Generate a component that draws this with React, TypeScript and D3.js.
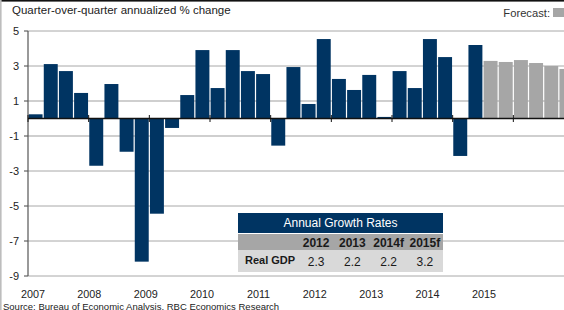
import React from 'react';
import * as d3 from 'd3';

const years = ['2007', '2008', '2009', '2010', '2011', '2012', '2013', '2014', '2015'];
const quarters = ['Q1', 'Q2', 'Q3', 'Q4'];
const actual = [
  0.24, 3.11, 2.71, 1.46,
  -2.7, 1.97, -1.9, -8.18,
  -5.44, -0.54, 1.34, 3.91,
  1.74, 3.91, 2.71, 2.54,
  -1.55, 2.94, 0.83, 4.54,
  2.26, 1.63, 2.49, 0.09,
  2.71, 1.74, 4.54, 3.51,
  -2.14, 4.2,
];
const forecast = [3.29, 3.23, 3.34, 3.17, 3.0, 2.83];
const yTicks = [5, 3, 1, -1, -3, -5, -7, -9];

// Annual growth table
const tableYears = ['2012', '2013', '2014f', '2015f'];
const tableValues = ['2.3', '2.2', '2.2', '3.2'];

const W = 564;
const H = 310;
const NAVY = '#003462';
const GREY = '#a6a6a6';
const FONT = '"Liberation Sans", Arial, sans-serif';

export default function App() {
  const categories = d3.cross(years, quarters).map(([y, q]) => `${y} ${q}`);
  const values = [...actual, ...forecast];

  const x = d3
    .scaleBand<string>()
    .domain(categories)
    .range([28, 574])
    .paddingInner(0.08)
    .paddingOuter(0.04);
  const y = d3.scaleLinear().domain([-9, 5]).range([276, 31]);
  const yearLabel = d3.scalePoint<string>().domain(years).range([33, 484]);

  const gap = (x.step() - x.bandwidth()) / 2;
  const y0 = y(0);

  // table columns
  const tx = d3.scaleBand<string>().domain(tableYears).range([298, 443]);

  return (
    <svg
      width={W}
      height={H}
      style={{ position: 'absolute', left: 0, top: 0, background: '#fff' }}
      fontFamily={FONT}
    >
      {/* frame */}
      <rect x={0} y={0} width={W} height={1.6} fill="#111" />
      <rect x={0} y={0} width={1.6} height={H} fill="#bdbdbd" />

      <text x={12} y={13.5} fontSize={11.5} fill="#222">
        Quarter-over-quarter annualized % change
      </text>
      <text x={550} y={17} fontSize={11.2} fill="#333" textAnchor="end">
        Forecast:
      </text>
      <rect x={553} y={8} width={12} height={9} fill={GREY} />

      {/* grid */}
      {yTicks.map((t) => (
        <g key={t}>
          <line
            x1={28}
            x2={W}
            y1={y(t)}
            y2={y(t)}
            stroke={Math.abs(t) === 1 ? '#cfcfcf' : '#a8a8a8'}
            strokeWidth={Math.abs(t) === 1 ? 2 : 1}
          />
          <line x1={24} x2={28} y1={y(t)} y2={y(t)} stroke="#444" />
          <text x={19} y={y(t) + 4} fontSize={11} textAnchor="end" fill="#222">
            {t}
          </text>
        </g>
      ))}

      {/* bars */}
      {values.map((v, i) => (
        <rect
          key={categories[i]}
          x={x(categories[i])}
          width={x.bandwidth()}
          y={Math.min(y(v), y0)}
          height={Math.abs(y(v) - y0)}
          fill={i < actual.length ? NAVY : GREY}
        />
      ))}

      {/* axes */}
      <line x1={28} x2={28} y1={31} y2={276} stroke="#555" strokeWidth={1.2} />
      <line x1={28} x2={W} y1={y0} y2={y0} stroke="#111" strokeWidth={1.6} />
      {years.map((yr) => {
        const px = (x(`${yr} Q1`) as number) - gap;
        return <line key={yr} x1={px} x2={px} y1={y0 - 3.5} y2={y0 + 3.5} stroke="#111" />;
      })}
      {years.map((yr) => (
        <text key={yr} x={yearLabel(yr)} y={297.5} fontSize={10.8} textAnchor="middle" fill="#222">
          {yr}
        </text>
      ))}

      {/* annual growth table */}
      <rect x={238} y={213} width={205} height={20} fill={NAVY} />
      <rect x={238} y={234} width={205} height={16} fill={GREY} />
      <rect x={238} y={250} width={205} height={22} fill="#d9d9d9" />
      <text x={340.5} y={227} fontSize={12} fill="#fff" textAnchor="middle">
        Annual Growth Rates
      </text>
      {tableYears.map((ty, i) => (
        <g key={ty}>
          <text
            x={(tx(ty) as number) + tx.bandwidth() / 2}
            y={246.5}
            fontSize={12}
            fontWeight="bold"
            textAnchor="middle"
            fill="#1a1a1a"
          >
            {ty}
          </text>
          <text
            x={(tx(ty) as number) + tx.bandwidth() / 2}
            y={266}
            fontSize={12}
            textAnchor="middle"
            fill="#1a1a1a"
          >
            {tableValues[i]}
          </text>
        </g>
      ))}
      <text x={245} y={264} fontSize={11} fontWeight="bold" fill="#1a1a1a">
        Real GDP
      </text>

      <text x={3} y={309.5} fontSize={9.5} fill="#222">
        Source: Bureau of Economic Analysis, RBC Economics Research
      </text>
    </svg>
  );
}
